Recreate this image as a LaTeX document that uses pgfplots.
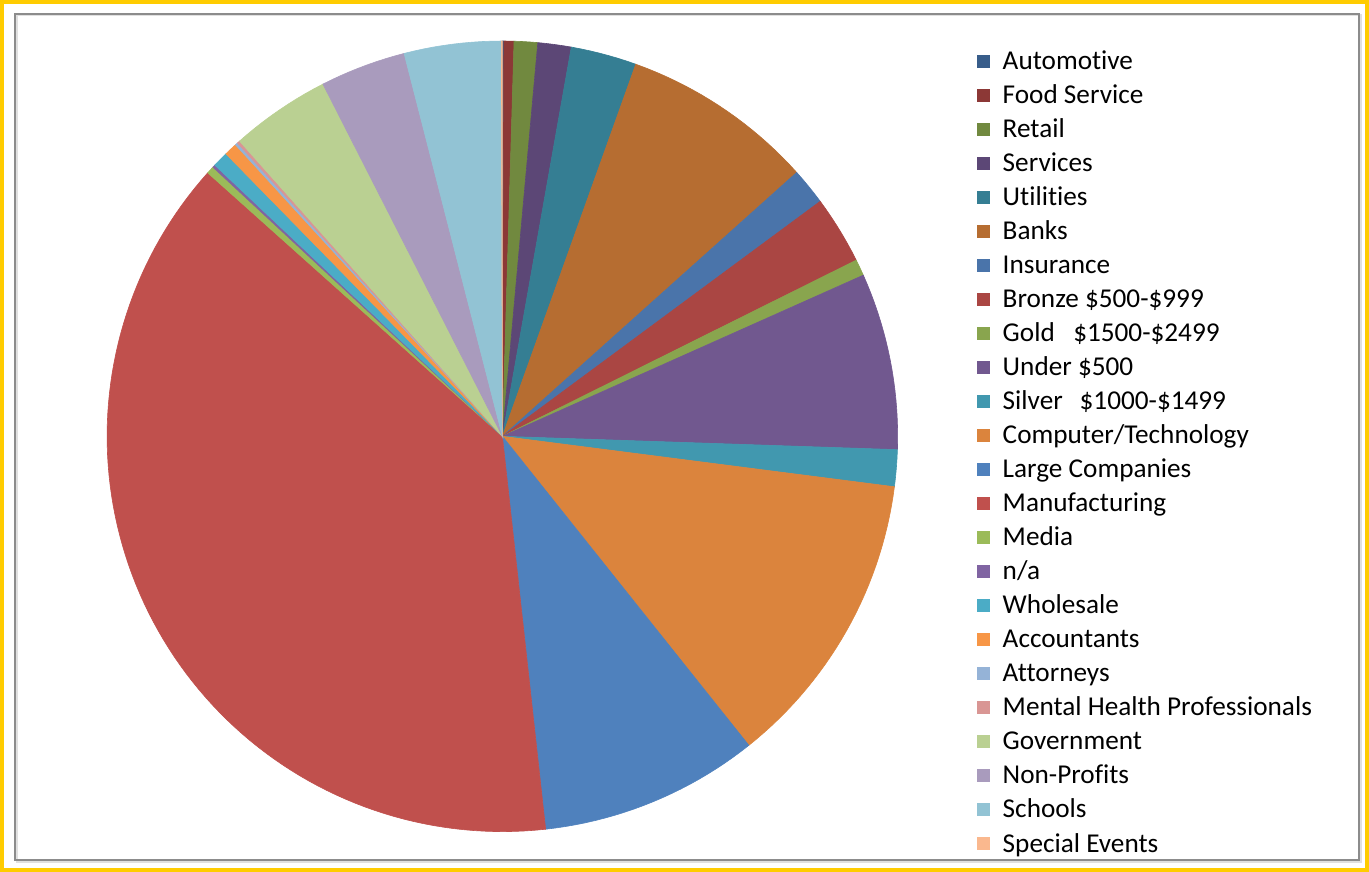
\documentclass[border=0pt]{standalone}
\usepackage{pgfplots}
\pgfplotsset{compat=1.18}
\usepackage{pgfplotstable}
\usepackage{fontspec}
\setmainfont[Ligatures=NoCommon]{Carlito}

\definecolor{c0}{HTML}{385D8A}
\definecolor{c1}{HTML}{8C3836}
\definecolor{c2}{HTML}{71893F}
\definecolor{c3}{HTML}{5C4776}
\definecolor{c4}{HTML}{357E93}
\definecolor{c5}{HTML}{B66D31}
\definecolor{c6}{HTML}{4A74AA}
\definecolor{c7}{HTML}{AA4643}
\definecolor{c8}{HTML}{89A54E}
\definecolor{c9}{HTML}{71588F}
\definecolor{c10}{HTML}{4198AF}
\definecolor{c11}{HTML}{DB843D}
\definecolor{c12}{HTML}{4F81BD}
\definecolor{c13}{HTML}{C0504D}
\definecolor{c14}{HTML}{9BBB59}
\definecolor{c15}{HTML}{8064A2}
\definecolor{c16}{HTML}{4BACC6}
\definecolor{c17}{HTML}{F79646}
\definecolor{c18}{HTML}{95B3D7}
\definecolor{c19}{HTML}{D99694}
\definecolor{c20}{HTML}{BAD092}
\definecolor{c21}{HTML}{A99BBD}
\definecolor{c22}{HTML}{92C3D4}
\definecolor{c23}{HTML}{FAB88E}
\definecolor{frameyellow}{HTML}{FFCC00}
\definecolor{framegray}{HTML}{8C8C8C}

% share of each category (percent), in legend order
\pgfplotstableread[col sep=comma]{
idx,value
0,0.06
1,0.41
2,0.96
3,1.36
4,2.69
5,7.89
6,1.50
7,2.78
8,0.67
9,7.22
10,1.50
11,12.25
12,8.97
13,38.36
14,0.31
15,0.11
16,0.64
17,0.53
18,0.11
19,0.11
20,4.08
21,3.50
22,3.96
23,0.04
}\piedata

\begin{document}
\begin{tikzpicture}
\begin{axis}[
  scale only axis,
  width=684.5pt, height=435.5pt,
  xmin=0, xmax=1369, ymin=0, ymax=871,
  hide axis,
  clip=false,
  legend image code/.code={\fill[#1] (0pt,-3pt) rectangle (6pt,3pt);},
  legend cell align=left,
  legend style={
    draw=none, fill=none,
    at={(axis cs:970,830)}, anchor=north west,
    font=\fontsize{13.6pt}{16pt}\selectfont,
    nodes={inner sep=0pt, text height=12pt, text depth=3.5pt},
    row sep=1.5pt,
    column sep=6.5pt,
  },
  legend entries={
    Automotive,
    Food Service,
    Retail,
    Services,
    Utilities,
    Banks,
    Insurance,
    Bronze \$500-\$999,
    Gold\hspace{0.68em}\$1500-\$2499,
    Under \$500,
    Silver\hspace{0.62em}\$1000-\$1499,
    Computer/Technology,
    Large Companies,
    Manufacturing,
    Media,
    n/a,
    Wholesale,
    Accountants,
    Attorneys,
    Mental Health Professionals,
    Government,
    Non-Profits,
    Schools,
    Special Events},
]
% frame
\draw[frameyellow, line width=2pt] (axis cs:2,2) rectangle (axis cs:1366,869);
\draw[black!12, line width=1pt] (axis cs:16.5,9.5) rectangle (axis cs:1359.5,855.5);
\draw[framegray, line width=1pt] (axis cs:14.5,11.5) rectangle (axis cs:1357.5,857);

\pgfplotstablegetrowsof{\piedata}
\pgfmathtruncatemacro\nrows{\pgfplotsretval-1}
\def\tot{0}
\pgfplotsforeachungrouped \i in {0,...,\nrows}{%
  \pgfplotstablegetelem{\i}{value}\of\piedata
  \pgfmathsetmacro\tot{\tot+\pgfplotsretval}%
}
\def\cum{0}
\pgfplotsforeachungrouped \i in {0,...,\nrows}{%
  \pgfplotstablegetelem{\i}{value}\of\piedata
  \pgfmathsetmacro\a{\cum/\tot*360}%
  \pgfmathsetmacro\cum{\cum+\pgfplotsretval}%
  \pgfmathsetmacro\b{\cum/\tot*360}%
  \pgfmathtruncatemacro\ns{max(3,(\b-\a)/1.5+2)}%
  \edef\cmd{\noexpand\addplot[fill=c\i, draw=c\i, line width=0.3pt, domain=\a:\b, samples=\ns]
    ({502+395*sin(x)},{435+395*cos(x)}) -- (axis cs:502,435) -- cycle;}%
  \cmd
}
\end{axis}
\end{tikzpicture}
\end{document}
